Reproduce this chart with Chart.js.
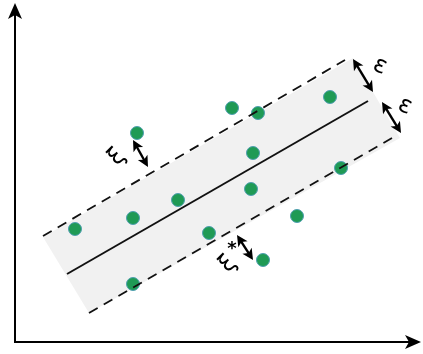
<!DOCTYPE html>
<html>
<head>
<meta charset="utf-8">
<script src="https://cdn.jsdelivr.net/npm/chart.js@4.4.0/dist/chart.umd.min.js"></script>
<style>
  html, body { margin: 0; padding: 0; background: #fff; }
  #wrap { width: 423px; height: 354px; }
</style>
</head>
<body>
<div id="wrap"><canvas id="svr"></canvas></div>
<script>
// sample points (x, y) - origin at the corner of the axes
var pointsX = [60, 118, 163, 194, 118, 122, 217, 243, 238, 236, 282, 315, 326, 248];
var pointsY = [113, 124, 142, 109, 58, 209, 234, 229, 189, 153, 126, 245, 174, 82];

// regression line and the epsilon tube
var fitLine = [[52, 68], [353, 241]];
var upperLine = [[28, 106], [330, 282]];
var lowerLine = [[74, 29], [377, 204]];
var tube = [[28, 105], [338, 284], [385, 204], [74, 29]];

// double arrows and their labels
var arrows = [
  { from: [338, 283], to: [358, 250], text: "ε", at: [365, 276], rot: 25 },
  { from: [367, 240], to: [386, 209], text: "ε", at: [390, 236], rot: 25 },
  { from: [118, 202], to: [133, 175], text: "ξ", at: [102, 185], rot: -45 },
  { from: [222, 107], to: [238, 82], text: "ξ", at: [213, 78], rot: -45, star: [217, 93] }
];

var axisEnd = [406, 339];

function toXY(list) {
  return list.map(function (p) { return { x: p[0], y: p[1] }; });
}

var pts = pointsX.map(function (x, i) { return { x: x, y: pointsY[i] }; });

function arrowHead(ctx, x1, y1, x2, y2, len, half) {
  var a = Math.atan2(y2 - y1, x2 - x1);
  ctx.beginPath();
  ctx.moveTo(x2, y2);
  ctx.lineTo(x2 - len * Math.cos(a) + half * Math.sin(a), y2 - len * Math.sin(a) - half * Math.cos(a));
  ctx.lineTo(x2 - len * 0.75 * Math.cos(a), y2 - len * 0.75 * Math.sin(a));
  ctx.lineTo(x2 - len * Math.cos(a) - half * Math.sin(a), y2 - len * Math.sin(a) + half * Math.cos(a));
  ctx.closePath();
  ctx.fill();
}

var tubePlugin = {
  id: "tube",
  beforeDatasetsDraw: function (chart) {
    var ctx = chart.ctx, sx = chart.scales.x, sy = chart.scales.y;
    ctx.save();
    ctx.fillStyle = "#f1f1f1";
    ctx.beginPath();
    tube.forEach(function (p, i) {
      var px = sx.getPixelForValue(p[0]), py = sy.getPixelForValue(p[1]);
      if (i === 0) ctx.moveTo(px, py); else ctx.lineTo(px, py);
    });
    ctx.closePath();
    ctx.fill();
    ctx.restore();
  },
  afterDatasetsDraw: function (chart) {
    var ctx = chart.ctx, sx = chart.scales.x, sy = chart.scales.y;
    ctx.save();
    ctx.strokeStyle = "#000";
    ctx.fillStyle = "#000";

    // axes
    var ox = sx.getPixelForValue(0), oy = sy.getPixelForValue(0);
    var ex = sx.getPixelForValue(axisEnd[0]), ey = sy.getPixelForValue(axisEnd[1]);
    ctx.lineWidth = 2;
    ctx.beginPath();
    ctx.moveTo(ox - 1, oy); ctx.lineTo(ex - 10, oy);
    ctx.moveTo(ox, oy + 1); ctx.lineTo(ox, ey + 10);
    ctx.stroke();
    arrowHead(ctx, ox, oy, ex, oy, 16, 7);
    arrowHead(ctx, ox, oy, ox, ey, 16, 7);

    // epsilon / xi arrows
    arrows.forEach(function (a) {
      var x1 = sx.getPixelForValue(a.from[0]), y1 = sy.getPixelForValue(a.from[1]);
      var x2 = sx.getPixelForValue(a.to[0]), y2 = sy.getPixelForValue(a.to[1]);
      var ang = Math.atan2(y2 - y1, x2 - x1);
      ctx.lineWidth = 2.4;
      ctx.beginPath();
      ctx.moveTo(x1 + 6 * Math.cos(ang), y1 + 6 * Math.sin(ang));
      ctx.lineTo(x2 - 6 * Math.cos(ang), y2 - 6 * Math.sin(ang));
      ctx.stroke();
      arrowHead(ctx, x1, y1, x2, y2, 11, 5.5);
      arrowHead(ctx, x2, y2, x1, y1, 11, 5.5);

      var tx = sx.getPixelForValue(a.at[0]), ty = sy.getPixelForValue(a.at[1]);
      ctx.save();
      ctx.translate(tx, ty);
      ctx.rotate(a.rot * Math.PI / 180);
      ctx.font = "24px 'DejaVu Sans'";
      ctx.textAlign = "center";
      ctx.textBaseline = "middle";
      ctx.fillText(a.text, 0, 0);
      ctx.restore();
      if (a.star) {
        var stx = sx.getPixelForValue(a.star[0]), sty = sy.getPixelForValue(a.star[1]);
        ctx.font = "bold 18px 'DejaVu Sans'";
        ctx.textAlign = "center";
        ctx.textBaseline = "middle";
        ctx.fillText("*", stx, sty);
      }
    });
    ctx.restore();
  }
};

new Chart(document.getElementById("svr"), {
  type: "scatter",
  data: {
    datasets: [
      {
        label: "fit",
        type: "line",
        data: toXY(fitLine),
        borderColor: "#111",
        borderWidth: 2,
        pointRadius: 0,
        fill: false
      },
      {
        label: "upper",
        type: "line",
        data: toXY(upperLine),
        borderColor: "#111",
        borderWidth: 1.8,
        borderDash: [10, 7],
        pointRadius: 0,
        fill: false
      },
      {
        label: "lower",
        type: "line",
        data: toXY(lowerLine),
        borderColor: "#111",
        borderWidth: 1.8,
        borderDash: [10, 7],
        pointRadius: 0,
        fill: false
      },
      {
        label: "samples",
        data: pts,
        backgroundColor: "#1f9a55",
        borderColor: "#4f9fb0",
        borderWidth: 1,
        pointRadius: 6.5,
        pointHoverRadius: 6.5
      }
    ]
  },
  options: {
    responsive: true,
    maintainAspectRatio: false,
    animation: false,
    layout: { padding: 0, autoPadding: false },
    plugins: { legend: { display: false }, tooltip: { enabled: false } },
    scales: {
      x: { type: "linear", min: -15, max: 408, display: false },
      y: { type: "linear", min: -12, max: 342, display: false }
    }
  },
  plugins: [tubePlugin]
});
</script>
</body>
</html>
